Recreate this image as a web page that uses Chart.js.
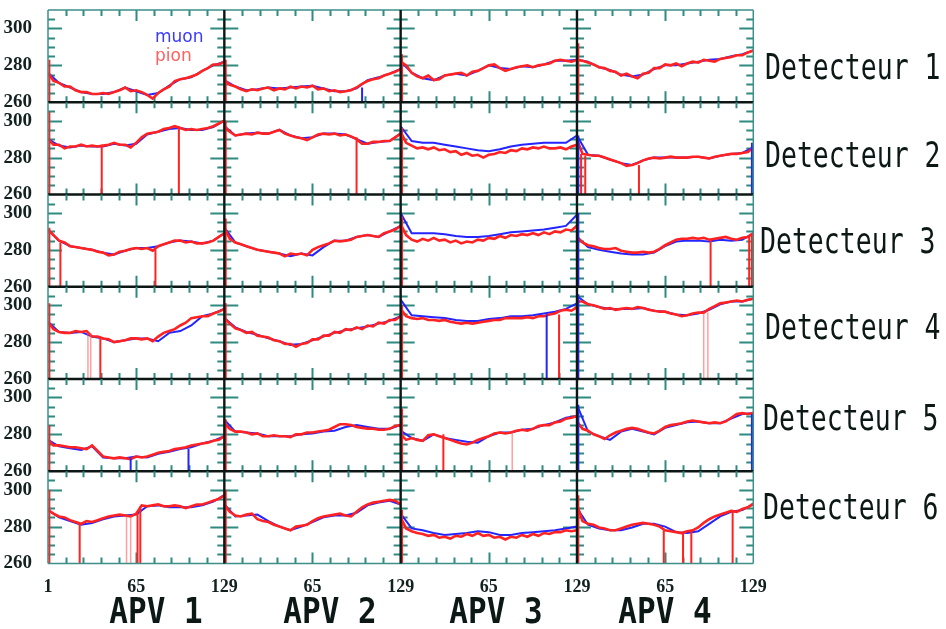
<!DOCTYPE html>
<html>
<head>
<meta charset="utf-8">
<script src="https://cdn.jsdelivr.net/npm/chart.js@4.4.1/dist/chart.umd.min.js"></script>
<style>
  html, body { margin: 0; padding: 0; background: #fff; }
  #wrap { position: relative; width: 946px; height: 629px; overflow: hidden; background: #fff; }
  #wrap canvas { position: absolute; left: 0; }
  .det { position: absolute; font-family: 'DejaVu Sans Mono', monospace; font-size: 26.5px; line-height: 26px;
         color: #0b1816; white-space: pre; transform: scaleY(1.35); transform-origin: left center; }
  .apv { position: absolute; font-family: 'DejaVu Sans Mono', monospace; font-weight: bold; font-size: 31px;
         line-height: 31px; color: #0b1816; white-space: pre; transform: translateX(-50%) scaleY(1.17); }
  .leg { position: absolute; left: 155px; font-family: 'DejaVu Sans', sans-serif; font-size: 17px; line-height: 17px; }
</style>
</head>
<body>
<div id="wrap"></div>
<script>
'use strict';

// DATA
let detectorLabels = ['Detecteur 1', 'Detecteur 2', 'Detecteur 3', 'Detecteur 4', 'Detecteur 5', 'Detecteur 6'];
let apvLabels = ['APV 1', 'APV 2', 'APV 3', 'APV 4'];
let xTickLabels = ['1', '65', '129', '65', '129', '65', '129', '65', '129'];
let yTickValues = [260, 280, 300];

// strip numbers where the curves were read (pion every 4, muon every 8)
let pionChannels = [1, 5, 9, 13, 17, 21, 25, 29, 33, 37, 41, 45, 49, 53, 57, 61, 65,
  69, 73, 77, 81, 85, 89, 93, 97, 101, 105, 109, 113, 117, 121, 125, 129];
let muonChannels = [1, 9, 17, 25, 33, 41, 49, 57, 65, 73, 81, 89, 97, 105, 113, 121, 129];

// pion (red), one list per APV
let pionDet1 = [
  [276, 271.5, 270.5, 268.5, 268.5, 266.5, 265.5, 265.5, 264.5, 264.5, 265, 264.5, 265.5, 266.5, 268, 266, 266.5, 265.5, 264, 262, 265, 267, 268.5, 271.5, 272.5, 273, 274, 275, 277, 278.5, 280.5, 280.5, 282],
  [272, 269.5, 268.5, 267, 266, 267, 266.5, 267.5, 268, 266.5, 267.5, 267, 268.5, 267.5, 268.5, 268, 269, 267, 267.5, 266, 266.5, 265.5, 266, 266.5, 268, 270, 271.5, 272.5, 273, 274.5, 275.5, 276.5, 278],
  [282, 280, 276, 274, 273, 274.5, 272, 272.5, 274.5, 275, 275.5, 276, 274.5, 276.5, 277, 278.5, 280, 280.5, 278.5, 277, 278, 279, 279.5, 280, 279, 280, 280.5, 281, 282.5, 283, 282.5, 282, 283],
  [283, 282.5, 281.5, 280.5, 279, 278.5, 277, 276.5, 274.5, 275.5, 274, 273, 275.5, 276, 278.5, 278.5, 280.5, 280, 281, 279.5, 281, 282, 281.5, 283, 282.5, 282, 283.5, 284, 284.5, 285.5, 285.5, 287, 288]
];
let pionDet2 = [
  [290, 287, 287, 285, 286, 286, 287, 286, 286.5, 286, 286.5, 287, 288, 287, 287, 285.5, 288, 291, 293, 293.5, 294, 295.5, 296, 297, 296, 295, 295.5, 295, 295.5, 296, 297, 298.5, 300],
  [297, 294, 292, 292.5, 293, 292.5, 293.5, 293, 293, 294, 295, 293, 292, 291, 290.5, 289.5, 291, 292.5, 293, 292.5, 293, 292, 292.5, 291.5, 290, 287.5, 287.5, 288.5, 288.5, 289, 289, 291, 293],
  [294, 288, 286.5, 285, 285.5, 284.5, 285.5, 284, 284.5, 283, 283.5, 281.5, 282.5, 281, 281.5, 280, 281.5, 282, 283, 282.5, 284, 283.5, 285, 284.5, 285.5, 285, 286, 285, 285, 285.5, 284.5, 286, 287],
  [290, 282, 281.5, 281, 281, 280, 279, 278, 277, 275.5, 276, 277, 278.5, 279.5, 280, 279.5, 280, 280.5, 280, 280, 280, 280.5, 280.5, 280, 279.5, 280.5, 281, 281.5, 282, 282, 282.5, 283, 285.5]
];
let pionDet3 = [
  [291, 288, 285, 284, 282, 281.5, 281, 280.5, 280, 279, 278.5, 277, 277.5, 279, 279.5, 280.5, 281, 280.5, 281, 279.5, 282, 283, 284, 285, 285, 284, 284.5, 283.5, 283.5, 284, 285, 287, 289],
  [292, 286, 284, 283, 282, 281, 280, 279.5, 279, 278.5, 278, 276.5, 278, 277.5, 278, 277, 280, 281.5, 282.5, 283.5, 285, 284.5, 285, 285.5, 287, 287.5, 288, 287.5, 287, 289, 290, 291, 293],
  [294, 288, 285.5, 284.5, 286, 285, 286.5, 285, 285.5, 284, 285, 283.5, 284.5, 284, 285.5, 285, 286.5, 286, 287.5, 286.5, 288, 287.5, 288.5, 288, 289, 288, 289.5, 288.5, 290, 289.5, 291, 290.5, 293],
  [287, 284, 282.5, 282, 281, 280.5, 280.5, 281, 279.5, 279, 278.5, 278.5, 279, 278.5, 279, 280.5, 282.5, 284, 285.5, 286, 286, 286.5, 286, 286.5, 285.5, 286, 286.5, 287, 286, 285.5, 286.5, 287, 289]
];
let pionDet4 = [
  [291, 287, 285.5, 285, 285, 286, 285.5, 286, 283, 283, 282, 281.5, 280, 280.5, 281, 282, 282, 281.5, 282, 280.5, 283, 285, 286, 287, 289, 290.5, 293, 293.5, 294, 294, 295.5, 296.5, 298],
  [293, 290, 287.5, 286.5, 285, 285.5, 283.5, 283, 282.5, 281, 280.5, 279, 279, 277.5, 279, 279.5, 281.5, 281.5, 283.5, 283.5, 285.5, 285, 287, 286.5, 288, 287, 289, 288.5, 290.5, 290, 292, 292, 294],
  [298, 294, 293, 292.5, 293, 292, 292, 291.5, 292, 291, 290.5, 290, 290.5, 290, 290.5, 291, 291.5, 292, 292, 293, 293, 293, 293, 293.5, 293, 294, 294, 295, 295.5, 297, 297.5, 297, 299],
  [302, 302, 300.5, 300, 299, 298, 298.5, 297.5, 298, 298.5, 298, 299, 298.5, 297.5, 297, 296.5, 296.5, 295.5, 295, 294, 294.5, 295.5, 296, 296, 298, 299.5, 301, 301.5, 302, 302.5, 302, 303, 303.5]
];
let pionDet5 = [
  [277, 274, 274, 273.5, 273, 273, 272.5, 272, 274, 271, 268, 267.5, 267, 267.5, 267, 266.5, 268, 267.5, 268, 269, 270, 270.5, 271, 272, 272.5, 273, 274, 274.5, 275, 275.5, 276.5, 277, 279],
  [286, 283, 281.5, 281.5, 281, 280, 280.5, 279, 279, 279.5, 279, 279, 278.5, 280, 280, 281, 281, 281.5, 282, 282.5, 284, 285.5, 285.5, 285, 284, 283.5, 283, 283, 282.5, 282.5, 283, 284.5, 285],
  [280, 277, 278, 277, 276.5, 279.5, 280, 279, 278, 277, 276, 275, 274.5, 275.5, 277, 278, 279, 280.5, 281, 280.5, 281, 282, 282.5, 282, 283, 284.5, 285, 285, 286.5, 287, 288.5, 289, 290],
  [287, 283, 282, 280, 279, 277.5, 279.5, 281, 282, 283, 283.5, 283, 282, 281, 280.5, 282, 284, 285, 285.5, 286, 287, 287.5, 287, 286.5, 286, 286.5, 286, 287, 289, 291, 291.5, 291, 291.5]
];
let pionDet6 = [
  [289, 287, 285.5, 285, 283.5, 282.5, 281.5, 283, 282.5, 283.5, 284.5, 285.5, 286, 286.5, 286, 285.5, 287, 291.5, 291, 291.5, 292, 291, 291, 291.5, 291, 290, 291, 292, 292, 293, 294, 295, 297],
  [292, 288, 286, 285.5, 286.5, 287, 284, 283, 282.5, 281, 280, 279, 278, 280, 280.5, 281, 283, 284.5, 285.5, 286, 286.5, 287, 286, 285.5, 288, 290.5, 292, 293, 293.5, 294, 294.5, 294, 292],
  [285, 279, 277.5, 276.5, 276, 275, 275.5, 274, 274.5, 273.5, 275, 274.5, 276, 275, 276.5, 275, 275.5, 274, 274.5, 273, 274.5, 274, 275.5, 274.5, 276, 275, 276.5, 276, 277, 277, 278, 277.5, 278],
  [292, 283, 281.5, 281, 279.5, 279, 278, 278, 279, 280, 281, 281.5, 282, 281.5, 281, 280, 278, 277.5, 277, 276.5, 277.5, 278, 279.5, 282, 284, 285.5, 286.5, 287.5, 288.5, 288, 289.5, 290.5, 292.5]
];

// muon (blue), one list per APV
let muonDet1 = [
  [276, 270.5, 268, 265.5, 264.5, 264.5, 265.5, 268, 266, 264, 265, 269, 272.5, 273.5, 277, 280, 282],
  [272, 268.5, 266.5, 267, 268, 267.5, 268, 268.5, 269, 267.5, 266, 266, 267.5, 272, 273.5, 275.5, 278],
  [282, 276, 273, 272, 274.5, 275.5, 274.5, 277, 280, 278.5, 278, 279.5, 279, 280.5, 282.5, 282.5, 283],
  [283, 282, 279, 277.5, 275, 274, 275, 278, 280, 280, 281, 282, 283, 283.5, 285, 286, 288]
];
let muonDet2 = [
  [290, 286.5, 285.5, 286.5, 286, 286, 287.5, 286.5, 287.5, 292.5, 294, 295.5, 296, 295, 295, 296.5, 300],
  [297, 292, 293, 293.5, 293, 295, 292, 290.5, 291, 293, 293, 292.5, 290, 287.5, 288.5, 289, 293],
  [297, 289, 288, 288, 287, 286, 285, 284, 283.5, 284.5, 286, 287, 287.5, 288, 288, 288, 292],
  [292, 281.5, 281, 279, 277, 276, 278.5, 280, 280, 280, 280, 280.5, 279.5, 281, 282, 282.5, 285.5]
];
let muonDet3 = [
  [291, 285, 282, 281, 280, 278.5, 277.5, 279.5, 281, 281, 282, 284, 285, 284.5, 283.5, 285, 289],
  [292, 284, 282, 280, 279, 278, 276.5, 278, 277, 281.5, 285, 285, 287, 288, 287, 290, 293],
  [300, 289, 289, 289, 288.5, 287.5, 287, 287, 287.5, 288.5, 289.5, 290, 290.5, 291, 292, 293, 299],
  [287, 281.5, 280, 279, 278, 277.5, 277.5, 278.5, 282, 284.5, 285, 285, 284.5, 285.5, 285, 285.5, 289]
];
let muonDet4 = [
  [291, 285.5, 285, 285.5, 283, 282, 280, 281, 282, 282, 280.5, 285, 286, 289, 294, 295.5, 298],
  [293, 288, 285.5, 284, 282, 280.5, 278.5, 279, 281, 283, 285, 286.5, 287.5, 288.5, 290, 291.5, 294],
  [303, 294.5, 294, 293.5, 293, 292, 291.5, 291.5, 292.5, 293, 294, 294, 294.5, 295.5, 296.5, 298, 301],
  [305, 300.5, 299, 298, 298, 298, 298.5, 297, 296.5, 295, 294.5, 295.5, 297.5, 300.5, 302, 302, 303.5]
];
let muonDet5 = [
  [277, 273.5, 272.5, 271.5, 273.5, 267.5, 267, 267, 268, 267.5, 269.5, 270.5, 272, 273, 275, 276.5, 279],
  [288, 281.5, 281, 280.5, 279, 279, 279, 280, 280.5, 281.5, 282, 284, 285, 284, 283, 283, 285],
  [282, 278, 276.5, 280, 278, 277, 276, 275.5, 279, 281, 281, 282.5, 283, 285, 286.5, 289, 290],
  [296, 281.5, 279, 277, 281.5, 283, 281.5, 280, 283.5, 285, 286.5, 287, 286, 286, 288.5, 291, 291.5]
];
let muonDet6 = [
  [289, 285, 283, 281, 282, 284, 285.5, 286, 286.5, 291, 291.5, 290.5, 290.5, 290.5, 291.5, 293.5, 297],
  [292, 285.5, 286, 286.5, 283, 280, 278, 280, 282.5, 285, 286, 286, 287.5, 291.5, 293, 294, 292],
  [287, 279, 278, 276.5, 275.5, 276, 276.5, 277.5, 277, 275.5, 275.5, 276.5, 277, 277.5, 278, 279, 280],
  [290, 281, 279, 278, 278, 279.5, 281.5, 281.5, 280, 277, 276.5, 277.5, 281.5, 285.5, 288, 289, 292]
];

let pionData = [pionDet1, pionDet2, pionDet3, pionDet4, pionDet5, pionDet6];
let muonData = [muonDet1, muonDet2, muonDet3, muonDet4, muonDet5, muonDet6];

// dead strips: [detector, apv, strip, top value, kind] - drawn from 260 up to top
let spikes = [
  [0, 0, 2, 283, 'pion'], [0, 1, 2, 283, 'pion'], [0, 2, 2, 286, 'pion'], [0, 3, 2, 292, 'pion'],
  [1, 0, 2, 305, 'pion'], [1, 1, 2, 300, 'pion'], [1, 2, 2, 296, 'pion'], [1, 3, 2, 292, 'muon'],
  [2, 0, 2, 292, 'pion'], [2, 1, 2, 297, 'pion'], [2, 2, 2, 298, 'pion'], [2, 3, 2, 300, 'muon'],
  [3, 0, 2, 301, 'pion'], [3, 1, 2, 301, 'pion'], [3, 2, 2, 300, 'pion'], [3, 3, 2, 306, 'muon'],
  [4, 0, 2, 285, 'pion'], [4, 1, 2, 288, 'pion'], [4, 2, 2, 294, 'pion'], [4, 3, 2, 296, 'muon'],
  [5, 0, 2, 300, 'pion'], [5, 1, 2, 300, 'pion'], [5, 2, 2, 289, 'pion'], [5, 3, 2, 297, 'pion'],
  [0, 1, 101, 268, 'muon'],
  [1, 0, 40, 287, 'pion'], [1, 0, 96, 297, 'pion'], [1, 1, 97, 291, 'pion'],
  [1, 3, 4, 282, 'pion'], [1, 3, 7, 281, 'pion'], [1, 3, 46, 276, 'pion'], [1, 3, 128, 288, 'muon'],
  [2, 0, 10, 284, 'pion'], [2, 0, 79, 280, 'pion'], [2, 3, 98, 286, 'pion'], [2, 3, 126, 287, 'pion'], [2, 3, 128, 289, 'pion'],
  [3, 0, 30, 285, 'faint'], [3, 0, 32, 285, 'faint'], [3, 0, 39, 283, 'pion'],
  [3, 2, 107, 295, 'muon'], [3, 2, 116, 295, 'pion'], [3, 3, 93, 296, 'faint'], [3, 3, 96, 296, 'faint'],
  [4, 0, 61, 267, 'muon'], [4, 0, 103, 272, 'muon'], [4, 2, 32, 280, 'pion'], [4, 2, 82, 281, 'faint'], [4, 3, 128, 291, 'muon'],
  [5, 0, 24, 282, 'pion'], [5, 0, 58, 286, 'faint'], [5, 0, 61, 286, 'faint'], [5, 0, 66, 287, 'pion'], [5, 0, 68, 291, 'pion'],
  [5, 3, 64, 278, 'pion'], [5, 3, 78, 277, 'pion'], [5, 3, 84, 278, 'pion'], [5, 3, 114, 288, 'pion']
];

// STYLE
const PION_COLOR = '#ff2222';
const MUON_COLOR = '#2424ff';
const FAINT_COLOR = 'rgba(255, 80, 80, 0.55)';
const TICK_COLOR = '#2f8a80';
const FRAME_DARK = '#0c1715';
const FRAME_EDGE = '#3d9088';
const LABEL_COLOR = '#12211f';

const PLOT_TOP = 10;
const ROW_H = 92.25;
const PLOT_LEFT = 48;
const PLOT_RIGHT = 753.3;
const CANVAS_W = 946;

let wrap = document.getElementById('wrap');

// HELPERS
function toPoints(values, chans, apv) {
  return chans.map((ch, i) => ({ x: apv * 128 + ch - 1, y: values[i] }));
}

// frame, separators and inner tick marks of one detector row
let frameTicks = {
  id: 'frameTicks',
  beforeDatasetsDraw(chart, args, opts) {
    let { ctx, chartArea: a, scales: { x, y } } = chart;
    ctx.save();
    ctx.strokeStyle = TICK_COLOR;
    ctx.lineWidth = 2;
    ctx.beginPath();
    for (let c = 0; c < 4; c++) {
      for (let k = 1; k < 10; k++) {
        let px = Math.round(x.getPixelForValue(c * 128 + 12.8 * k)) + 0.5;
        let len = k === 5 ? 11 : 6;
        ctx.moveTo(px, a.top); ctx.lineTo(px, a.top + len);
        ctx.moveTo(px, a.bottom); ctx.lineTo(px, a.bottom - len);
      }
    }
    for (let c = 0; c <= 4; c++) {
      let px = x.getPixelForValue(c * 128);
      for (let v = 265; v < 310; v += 5) {
        let py = Math.round(y.getPixelForValue(v)) + 0.5;
        let len = (v === 280 || v === 300) ? 14 : 7;
        if (c < 4) { ctx.moveTo(px, py); ctx.lineTo(px + len, py); }
        if (c > 0) { ctx.moveTo(px, py); ctx.lineTo(px - len, py); }
      }
    }
    ctx.stroke();
    ctx.restore();
  },
  afterDatasetsDraw(chart, args, opts) {
    let { ctx, chartArea: a, scales: { x } } = chart;
    ctx.save();
    // outer edges
    ctx.strokeStyle = FRAME_EDGE;
    ctx.lineWidth = 1.5;
    ctx.beginPath();
    ctx.moveTo(a.left, a.top); ctx.lineTo(a.left, a.bottom);
    ctx.moveTo(a.right, a.top); ctx.lineTo(a.right, a.bottom);
    if (opts.row === 0) { ctx.moveTo(a.left, a.top); ctx.lineTo(a.right, a.top); }
    if (opts.row === 5) { ctx.moveTo(a.left, a.bottom); ctx.lineTo(a.right, a.bottom); }
    ctx.stroke();
    // inner separators
    ctx.strokeStyle = FRAME_DARK;
    ctx.lineWidth = 2.4;
    ctx.beginPath();
    for (let c = 1; c < 4; c++) {
      let px = x.getPixelForValue(c * 128);
      ctx.moveTo(px, a.top); ctx.lineTo(px, a.bottom);
    }
    if (opts.row < 5) { ctx.moveTo(a.left, a.bottom); ctx.lineTo(a.right, a.bottom); }
    ctx.stroke();
    ctx.restore();
  }
};

// CHARTS, one per detector row
function renderRow(r) {
  let top = PLOT_TOP + r * ROW_H;
  let bottom = top + ROW_H;
  let last = r === detectorLabels.length - 1;
  let cTop = Math.floor(top) - 12;
  let cBottom = Math.ceil(bottom) + (last ? 32 : 12);

  let canvas = document.createElement('canvas');
  canvas.width = CANVAS_W;
  canvas.height = cBottom - cTop;
  canvas.style.top = cTop + 'px';
  wrap.appendChild(canvas);

  let datasets = [];
  for (let a = 0; a < 4; a++) {
    datasets.push({ data: toPoints(pionData[r][a], pionChannels, a), borderColor: PION_COLOR, borderWidth: 2.6, order: 1 });
    datasets.push({ data: toPoints(muonData[r][a], muonChannels, a), borderColor: MUON_COLOR, borderWidth: 2, order: 2 });
  }
  spikes.filter(s => s[0] === r).forEach(s => {
    let xv = s[1] * 128 + s[2] - 1;
    let color = s[4] === 'muon' ? MUON_COLOR : (s[4] === 'faint' ? FAINT_COLOR : PION_COLOR);
    datasets.push({
      data: [{ x: xv, y: 260 }, { x: xv, y: s[3] }],
      borderColor: color,
      borderWidth: s[4] === 'faint' ? 1.5 : 2,
      order: 0
    });
  });

  new Chart(canvas, {
    type: 'line',
    data: { datasets: datasets },
    options: {
      responsive: false,
      animation: false,
      events: [],
      layout: {
        padding: { top: top - cTop, right: CANVAS_W - PLOT_RIGHT, bottom: last ? 0 : cBottom - bottom, left: 0 }
      },
      elements: { point: { radius: 0 }, line: { tension: 0, borderCapStyle: 'butt' } },
      plugins: {
        legend: { display: false },
        tooltip: { enabled: false },
        frameTicks: { row: r }
      },
      scales: {
        x: {
          type: 'linear',
          min: 0,
          max: 512,
          display: last,
          afterFit: (s) => {
            s.height = last ? cBottom - bottom : 0;
            s.paddingLeft = 0; s.paddingRight = 0;
          },
          grid: { display: false },
          border: { display: false },
          ticks: {
            stepSize: 64,
            autoSkip: false,
            maxRotation: 0,
            padding: 5,
            color: LABEL_COLOR,
            font: { family: "'Liberation Serif', serif", size: 18, weight: 'bold' },
            callback: (v) => xTickLabels[Math.round(v / 64)]
          }
        },
        y: {
          min: 260,
          max: 310,
          afterFit: (s) => {
            s.width = PLOT_LEFT;
            s.paddingTop = 0; s.paddingBottom = 0;
          },
          afterBuildTicks: (s) => { s.ticks = yTickValues.map(v => ({ value: v })); },
          grid: { display: false },
          border: { display: false },
          ticks: {
            padding: 8,
            color: LABEL_COLOR,
            font: { family: "'Liberation Serif', serif", size: 19, weight: 'bold' }
          }
        }
      }
    },
    plugins: [frameTicks]
  });
}

for (let r = 0; r < detectorLabels.length; r++) {
  renderRow(r);
}

// TEXT LABELS
let detPos = [[765, 66], [765, 154.5], [760, 240], [765, 326], [763, 417], [763, 506]];
detectorLabels.forEach((t, i) => {
  let d = document.createElement('div');
  d.className = 'det';
  d.textContent = t;
  d.style.left = detPos[i][0] + 'px';
  d.style.top = (detPos[i][1] - 12.5) + 'px';
  wrap.appendChild(d);
});

let apvCenters = [156, 330, 496, 665];
apvLabels.forEach((t, i) => {
  let d = document.createElement('div');
  d.className = 'apv';
  d.textContent = t;
  d.style.left = apvCenters[i] + 'px';
  d.style.top = (610 - 15) + 'px';
  wrap.appendChild(d);
});

let muonText = document.createElement('div');
muonText.className = 'leg';
muonText.textContent = 'muon';
muonText.style.color = '#3a3aff';
muonText.style.top = '28px';
wrap.appendChild(muonText);

let pionText = document.createElement('div');
pionText.className = 'leg';
pionText.textContent = 'pion';
pionText.style.color = '#ff6060';
pionText.style.top = '47px';
wrap.appendChild(pionText);
</script>
</body>
</html>
